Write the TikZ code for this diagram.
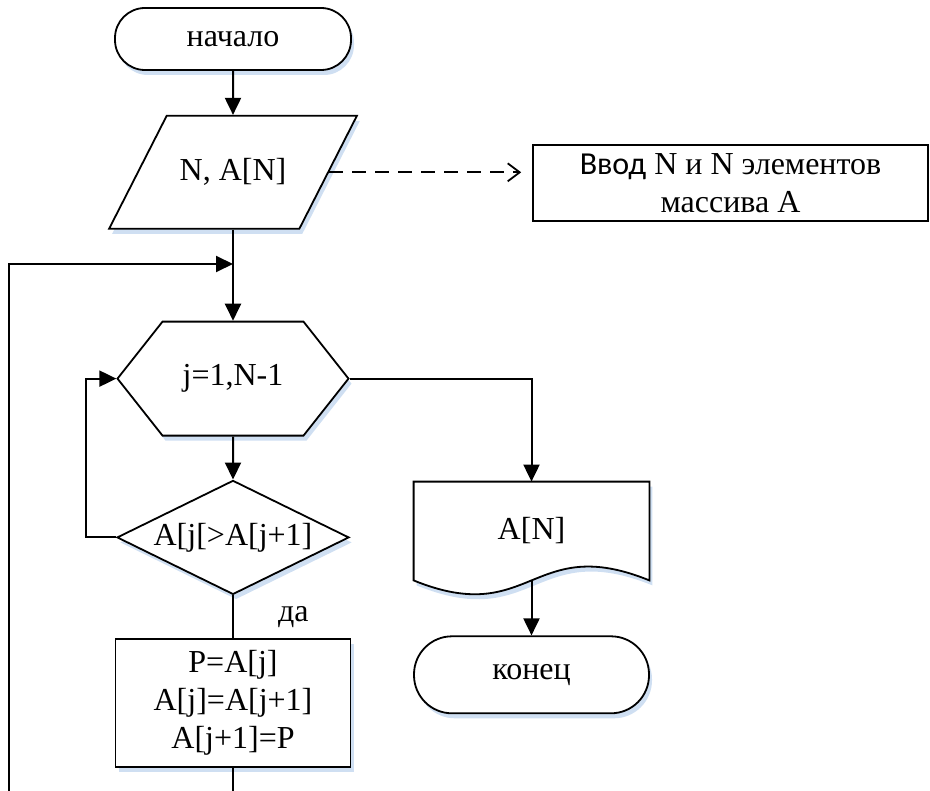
\documentclass[tikz,border=0pt]{standalone}
\usepackage{fontspec}
\setmainfont{Liberation Serif}
\newfontfamily\notefont{Carlito}
\usepackage{tikz}
\usetikzlibrary{arrows.meta,positioning,shapes.geometric,shapes.symbols,shadows,calc}
\definecolor{shade}{HTML}{CFDFF2}
\pgfdeclarelayer{background}
\pgfsetlayers{background,main}

\begin{document}
\begin{tikzpicture}[
  font=\fontsize{16pt}{19pt}\selectfont,
  node distance=21.5pt,
  shape base/.style={draw,line width=0.9pt,fill=white,align=center,inner sep=0pt,
              drop shadow={shadow xshift=1.5pt,shadow yshift=-2.5pt,fill=shade,opacity=1}},
  term/.style={shape base,rounded corners=15pt,minimum width=118pt,minimum height=31pt},
  io/.style={shape base,trapezium,trapezium left angle=63,trapezium right angle=117,
             text height=11.5pt,text depth=3.5pt,inner xsep=6.5pt,inner ysep=20.75pt},
  cycle/.style={shape base,signal,signal to=west and east,signal pointer angle=103.4,
                minimum width=115.5pt,minimum height=57pt},
  cond/.style={shape base,diamond,aspect=2,minimum width=116pt,minimum height=57pt},
  proc/.style={shape base,rectangle,minimum width=117.5pt,minimum height=64pt},
  note/.style={draw,line width=0.8pt,rectangle,align=center,minimum width=197.5pt,
               minimum height=38pt},
  arr/.style={-{Triangle[length=8.5pt,width=8pt]},line width=1pt},
  line/.style={line width=1pt},
  dash arr/.style={-{Straight Barb[length=6pt,width=9pt]},line width=0.9pt,
                   dash pattern=on 7pt off 4.5pt}]

  \useasboundingbox (0,0) rectangle (465pt,-395.5pt);
  \clip (0,0) rectangle (465pt,-395.5pt);

  % main column
  \node[term] (start) at (116.5pt,-19.5pt) {начало};
  \node[io,below=22pt of start] (in) {N, A[N]};
  \node[cycle,below=45.5pt of in] (loop) {j=1,N-1};
  \node[cond,below=of loop] (cmp) {A[j[>A[j+1]};
  \node[proc,below=of cmp] (swap) {P=A[j]\\A[j]=A[j+1]\\A[j+1]=P};

  % output column
  \node[minimum width=117.5pt,minimum height=49pt,inner sep=0pt] (out)
       at (265.75pt,-265.5pt) {A[N]};
  \begin{pgfonlayer}{background}
    \draw[line width=0.9pt,fill=white,
          drop shadow={shadow xshift=1.5pt,shadow yshift=-2.5pt,fill=shade,opacity=1}]
         (out.south west) -- (out.north west) -- (out.north east) -- (out.south east)
         .. controls ($(out.south)+(0,24pt)$) and ($(out.south)+(0,-24pt)$) .. (out.south west)
         -- cycle;
  \end{pgfonlayer}
  \node[term,minimum height=38.5pt,minimum width=117.5pt,rounded corners=19pt,
        below=27.5pt of out] (stop) {конец};

  % comment box
  \node[note] (info) at (365.25pt,-91.5pt)
       {{\notefont Ввод} N и N элементов\\массива A};

  \coordinate (join) at (116.5pt,-132pt);
  \coordinate (back) at (4.5pt,-132pt);

  \draw[arr] (start) -- (in);
  \draw[arr] (in.south) -- (loop.north);
  \draw[arr] (loop) -- (cmp);
  \draw[line] (cmp.south) -- node[right,xshift=19pt,inner sep=3pt] {да} (swap.north);
  \draw[arr] (swap.south) -- ++(0,-30pt) -| (back) -- (join);
  \draw[arr] (cmp.west) -- ++(-15pt,0) |- (loop.west);
  \draw[arr] (loop.east) -| (out.north);
  \draw[arr] (out.south) -- (stop.north);
  \draw[dash arr,shorten >=5.5pt] (in.east) -- (in.east -| info.west);
\end{tikzpicture}
\end{document}
